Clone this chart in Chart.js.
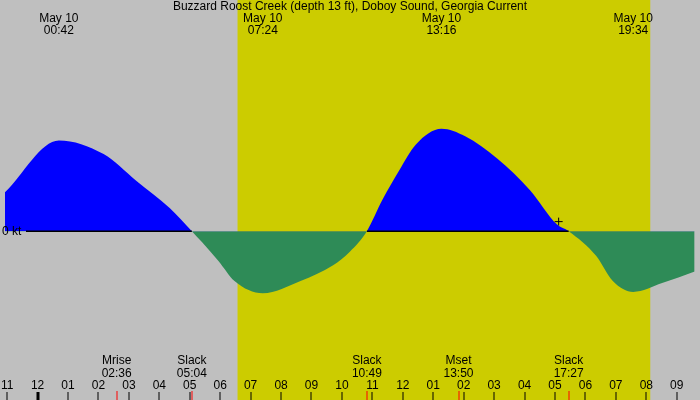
<!DOCTYPE html>
<html>
<head>
<meta charset="utf-8">
<script src="https://cdn.jsdelivr.net/npm/chart.js@4"></script>
<style>
html,body{margin:0;padding:0;background:#bfbfbf;}
</style>
</head>
<body>
<canvas id="tideChart" width="700" height="400"></canvas>
<script>

// current speed (kt), time in hours since midnight May 10
let hours = [-1.07,0.70,2.17,3.24,4.34,5.07,5.40,5.95,6.47,7.40,8.64,9.71,10.26,10.82,11.33,11.88,12.43,13.27,14.05,15.11,16.18,17.06,17.45,18.35,18.90,19.57,20.52,21.59];
let speeds = [0.57,1.33,1.13,0.74,0.34,0,-0.16,-0.44,-0.73,-0.91,-0.73,-0.50,-0.30,0,0.46,0.89,1.27,1.50,1.39,1.06,0.60,0.10,0,-0.36,-0.73,-0.89,-0.76,-0.59];

let title = "Buzzard Roost Creek (depth 13 ft), Doboy Sound, Georgia Current";
let peakTimes = [0.70,7.40,13.27,19.57];
let peakLabels = ["00:42","07:24","13:16","19:34"];
let eventTimes = [2.60,5.07,10.82,13.83,17.45];
let eventNames = ["Mrise","Slack","Slack","Mset","Slack"];
let eventLabels = ["02:36","05:04","10:49","13:50","17:27"];
let floodSpans = [[-1.07,5.07],[10.82,17.45]];
let sunrise = 6.57;
let sunset = 20.13;
let tickHours = [-1,0,1,2,3,4,5,6,7,8,9,10,11,12,13,14,15,16,17,18,19,20,21];
let nowMark = [{x:17.12,y:0.14}];

function hourLabel(h){
let v = ((h%12)+12)%12;
if(v===0) v=12;
return (v<10?"0":"")+v;
}

const drawing = {
id:"drawing",
beforeDatasetsDraw(chart){
const c = chart.ctx, xs = chart.scales.x, ys = chart.scales.y;
c.save();
c.fillStyle = "#bfbfbf";
c.fillRect(0,0,700,400);
c.fillStyle = "#cccc00";
let a = xs.getPixelForValue(sunrise), b = xs.getPixelForValue(sunset);
c.fillRect(a,0,b-a,400);
c.restore();
},
afterDatasetsDraw(chart){
const c = chart.ctx, xs = chart.scales.x, ys = chart.scales.y;
const y0 = ys.getPixelForValue(0);
c.save();
c.strokeStyle = "#000";
c.lineWidth = 1.5;
floodSpans.forEach(s=>{
c.beginPath();
c.moveTo(Math.max(26,xs.getPixelForValue(s[0])),y0);
c.lineTo(xs.getPixelForValue(s[1]),y0);
c.stroke();
});
c.fillStyle = "#000";
c.font = "12px 'Liberation Sans', Arial, sans-serif";
c.textBaseline = "middle";
c.textAlign = "left";
c.fillText("0 kt",2,y0);
c.textAlign = "center";
c.fillText(title,350,7);
peakTimes.forEach((t,i)=>{
let x = xs.getPixelForValue(t);
c.fillText("May 10",x,19);
c.fillText(peakLabels[i],x,31);
});
eventTimes.forEach((t,i)=>{
let x = xs.getPixelForValue(t);
c.fillText(eventNames[i],x,361);
c.fillText(eventLabels[i],x,374);
c.fillStyle = "#f00";
c.fillRect(Math.round(x)-0.5,391,1,9);
c.fillStyle = "#000";
});
tickHours.forEach(h=>{
let x = xs.getPixelForValue(h);
c.fillText(hourLabel(h),x,386);
let w = h===0?3:1;
c.fillRect(Math.round(x)-w/2,392,w,8);
});
c.restore();
}
};

new Chart(
document.getElementById("tideChart"),
{
type:"line",
data:{
datasets:[{
data:hours.map((h,i)=>({x:h,y:speeds[i]})),
borderWidth:0,
pointRadius:0,
cubicInterpolationMode:"monotone",
fill:{target:"origin",above:"#0000ff",below:"#2e8b57"}
},{
data:nowMark,
showLine:false,
pointStyle:"cross",
pointRadius:4,
borderColor:"#000",
borderWidth:1
}]
},
options:{
responsive:false,
animation:false,
devicePixelRatio:1,
layout:{padding:0},
plugins:{legend:{display:false},tooltip:{enabled:false}},
scales:{
x:{type:"linear",min:-1.07,max:21.6,display:false},
y:{min:-2.4,max:3.314,display:false}
}
},
plugins:[drawing]
});

</script>
</body>
</html>
